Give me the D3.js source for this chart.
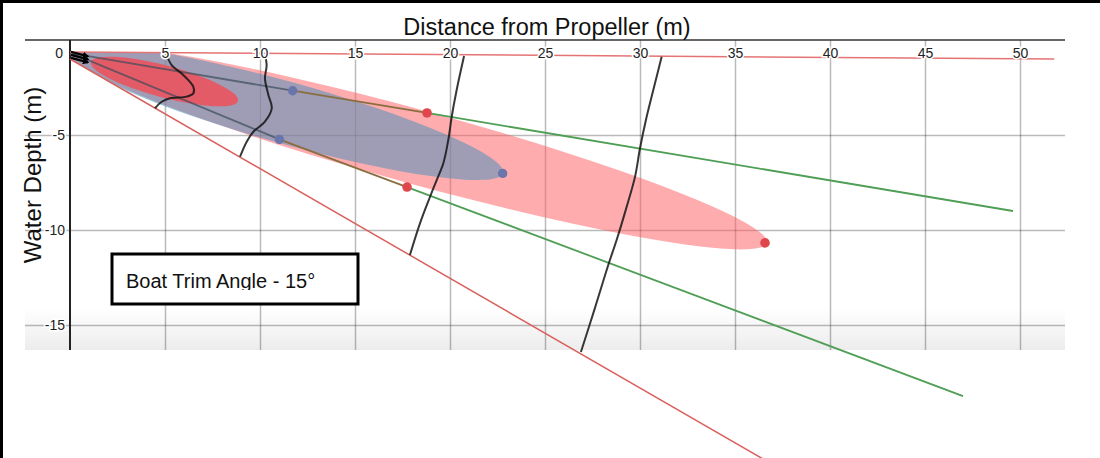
<!DOCTYPE html>
<html>
<head>
<meta charset="utf-8">
<script src="https://cdn.jsdelivr.net/npm/d3@7"></script>
<style>
body { margin: 0; background: #fff; }
svg { display: block; font-family: "Liberation Sans", Arial, sans-serif; }
.grid line { stroke: #000; stroke-opacity: 0.27; stroke-width: 1.5; }
.grid path { display: none; }
.ticks path { display: none; }
.ticks text { font-size: 14px; fill: #222; stroke: #fff; stroke-width: 3px; paint-order: stroke; }
</style>
</head>
<body>
<svg width="1100" height="458"></svg>
<script>
const xTicks = [5, 10, 15, 20, 25, 30, 35, 40, 45, 50];
const yTicks = [0, -5, -10, -15];

// plume ellipses: start point, far tip, half width (m)
const plumeOuter = { x0: 0, y0: -0.63, x1: 36.68, y1: -10.68, half: 1.95 };
const plumeCore = { x0: 0.05, y0: -0.68, x1: 22.79, y1: -7.0, half: 1.63 };
const plumeInner = { x0: 1.11, y0: -1.16, x1: 8.84, y1: -3.21, half: 0.84 };

const boundTop = [[0, -0.63], [51.8, -1.0]];
const boundBottom = [[0, -1.0], [37.6, -22.7]];

const jetUpperNear = [[0.1, -0.7], [11.72, -2.67]];
const jetUpperMid = [[11.72, -2.67], [18.79, -3.84]];
const jetUpperFar = [[18.79, -3.84], [49.63, -9.0]];
const jetLowerNear = [[0.1, -0.7], [11.02, -5.23]];
const jetLowerMid = [[11.02, -5.23], [17.74, -7.74]];
const jetLowerFar = [[17.74, -7.74], [47.0, -18.74]];

const blueDots = [[11.72, -2.67], [11.02, -5.23], [22.77, -7.02]];
const redDots = [[18.79, -3.84], [17.74, -7.74], [36.58, -10.68]];

// velocity profiles across the wash
const profileA = [[5.09, -0.79], [5.35, -1.32], [5.96, -1.84], [6.49, -2.46], [6.49, -2.81],
    [6.14, -2.98], [5.26, -3.07], [4.83, -3.25], [4.47, -3.59]];
const profileB = [[10.26, -0.79], [10.35, -1.32], [10.26, -2.02], [10.44, -2.89], [10.62, -3.59],
    [10.26, -4.30], [9.65, -4.83], [9.30, -5.35], [8.95, -6.14]];
const profileC = [[20.74, -0.84], [20.35, -2.63], [20.09, -4.04], [19.91, -5.26], [19.65, -6.49],
    [19.30, -7.37], [18.95, -8.25], [18.42, -9.65], [17.89, -11.32]];
const profileD = [[31.14, -0.88], [30.70, -2.63], [30.35, -4.04], [30.0, -5.70], [29.74, -7.19],
    [29.30, -8.77], [28.77, -10.53], [28.33, -11.84], [27.63, -14.1], [26.89, -16.42]];

const propArrows = [[[0.05, -0.62], [0.95, -0.86]], [[0.05, -0.78], [0.95, -1.02]], [[0.05, -0.94], [0.95, -1.18]]];

const svg = d3.select('svg');

const x = d3.scaleLinear().domain([0, 50]).range([70, 1020]);
const y = d3.scaleLinear().domain([0, -15]).range([40, 325]);

const plotLeft = 25, plotRight = 1065, plotTop = y(0), plotBottom = 350;

const line = d3.line().x(d => x(d[0])).y(d => y(d[1]));
const smooth = d3.line().x(d => x(d[0])).y(d => y(d[1])).curve(d3.curveCatmullRom.alpha(0.5));

const defs = svg.append('defs');
const grad = defs.append('linearGradient')
    .attr('id', 'fade').attr('x1', 0).attr('x2', 0).attr('y1', 0).attr('y2', 1);
grad.append('stop').attr('offset', '0%').attr('stop-color', '#fff');
grad.append('stop').attr('offset', '100%').attr('stop-color', '#ececec');
defs.append('marker')
    .attr('id', 'head')
    .attr('viewBox', '0 -5 10 10')
    .attr('refX', 8).attr('refY', 0)
    .attr('markerWidth', 3).attr('markerHeight', 3)
    .attr('orient', 'auto')
    .append('path').attr('d', 'M0,-5L10,0L0,5Z').attr('fill', '#000');
defs.append('clipPath').attr('id', 'cut')
    .append('rect').attr('x', 0).attr('y', 0).attr('width', 1100).attr('height', 290);
// the wash stays between the two boundary lines
defs.append('clipPath').attr('id', 'wedge')
    .append('path')
    .datum([boundTop[0], boundTop[1], boundBottom[1], boundBottom[0]])
    .attr('d', d => line(d) + 'Z');

svg.append('rect')
    .attr('x', plotLeft).attr('y', plotBottom - 42)
    .attr('width', plotRight - plotLeft).attr('height', 42)
    .attr('fill', 'url(#fade)');

// grid
svg.append('g')
    .attr('class', 'grid')
    .attr('transform', `translate(0, ${plotTop})`)
    .call(d3.axisBottom(x).tickValues(xTicks).tickSize(plotBottom - plotTop).tickFormat(''));

svg.append('g')
    .attr('class', 'grid')
    .attr('transform', `translate(${plotLeft}, 0)`)
    .call(d3.axisRight(y).tickValues(yTicks.slice(1)).tickSize(plotRight - plotLeft).tickFormat(''));

svg.append('line')
    .attr('x1', plotLeft).attr('x2', plotRight).attr('y1', plotTop).attr('y2', plotTop)
    .attr('stroke', '#333').attr('stroke-width', 1.5);
svg.append('line')
    .attr('x1', x(0)).attr('x2', x(0)).attr('y1', plotTop).attr('y2', plotBottom)
    .attr('stroke', '#222').attr('stroke-width', 2);

// plume shapes
const plumes = svg.append('g').attr('clip-path', 'url(#wedge)');
const drawPlume = (p, fill, opacity) => {
    const ax = x(p.x0), ay = y(p.y0), bx = x(p.x1), by = y(p.y1);
    const rx = Math.hypot(bx - ax, by - ay) / 2;
    const ry = x(p.half) - x(0);
    const ang = Math.atan2(by - ay, bx - ax) * 180 / Math.PI;
    plumes.append('ellipse')
        .attr('cx', 0).attr('cy', 0).attr('rx', rx).attr('ry', ry)
        .attr('transform', `translate(${(ax + bx) / 2}, ${(ay + by) / 2}) rotate(${ang})`)
        .attr('fill', fill).attr('fill-opacity', opacity);
};
drawPlume(plumeOuter, '#ff5a5f', 0.5);
drawPlume(plumeCore, 'rgb(79,146,186)', 0.55);
drawPlume(plumeInner, '#f0505a', 0.85);

const stroke = (data, color, w, gen = line) => svg.append('path')
    .datum(data)
    .attr('d', gen)
    .attr('fill', 'none')
    .attr('stroke', color)
    .attr('stroke-width', w);

stroke(boundTop, '#e57373', 1.5);
stroke(boundBottom, '#d9605c', 1.5);

stroke(jetUpperNear, 'rgba(60,75,90,0.7)', 1.8);
stroke(jetLowerNear, 'rgba(60,75,90,0.7)', 1.8);
stroke(jetUpperMid, '#8a6e40', 1.8);
stroke(jetLowerMid, '#8a6e40', 1.8);
stroke(jetUpperFar, '#4f9e55', 1.8);
stroke(jetLowerFar, '#4f9e55', 1.8);

[profileA, profileB, profileC, profileD].forEach(p => stroke(p, 'rgba(20,20,20,0.85)', 2, smooth));

svg.selectAll('.bdot')
    .data(blueDots)
    .enter().append('circle')
    .attr('cx', d => x(d[0])).attr('cy', d => y(d[1])).attr('r', 4.7)
    .attr('fill', '#6a76ab');
svg.selectAll('.rdot')
    .data(redDots)
    .enter().append('circle')
    .attr('cx', d => x(d[0])).attr('cy', d => y(d[1])).attr('r', 4.8)
    .attr('fill', '#e0474c');

svg.selectAll('.arrow')
    .data(propArrows)
    .enter().append('path')
    .attr('d', line)
    .attr('stroke', '#000').attr('stroke-width', 2.2)
    .attr('marker-end', 'url(#head)');

// tick labels
svg.append('g')
    .attr('class', 'ticks')
    .attr('transform', `translate(0, ${plotTop})`)
    .call(d3.axisBottom(x).tickValues(xTicks).tickSize(0).tickPadding(8));

const yl = svg.append('g')
    .attr('class', 'ticks')
    .attr('transform', `translate(${x(0)}, 0)`)
    .call(d3.axisLeft(y).tickValues(yTicks).tickSize(0).tickPadding(5).tickFormat(d => String(d)));
yl.selectAll('.tick').filter(d => d === 0).select('text')
    .attr('x', -7).attr('dy', '1.28em');

svg.append('text')
    .attr('x', 547).attr('y', 35)
    .attr('text-anchor', 'middle')
    .attr('font-size', '23.5px')
    .attr('fill', '#111')
    .text('Distance from Propeller (m)');

svg.append('text')
    .attr('transform', 'translate(41, 175) rotate(-90)')
    .attr('text-anchor', 'middle')
    .attr('font-size', '24px')
    .attr('fill', '#111')
    .text('Water Depth (m)');

svg.append('rect')
    .attr('x', 112).attr('y', 254).attr('width', 246).attr('height', 50)
    .attr('fill', '#fff').attr('stroke', '#000').attr('stroke-width', 3);
svg.append('text')
    .attr('x', 126).attr('y', 288)
    .attr('font-size', '20px')
    .attr('fill', '#111')
    .attr('clip-path', 'url(#cut)')
    .text('Boat Trim Angle - 15°');

svg.append('path')
    .attr('d', 'M1.5,458V1.5H1100')
    .attr('fill', 'none').attr('stroke', '#000').attr('stroke-width', 3);
</script>
</body>
</html>
